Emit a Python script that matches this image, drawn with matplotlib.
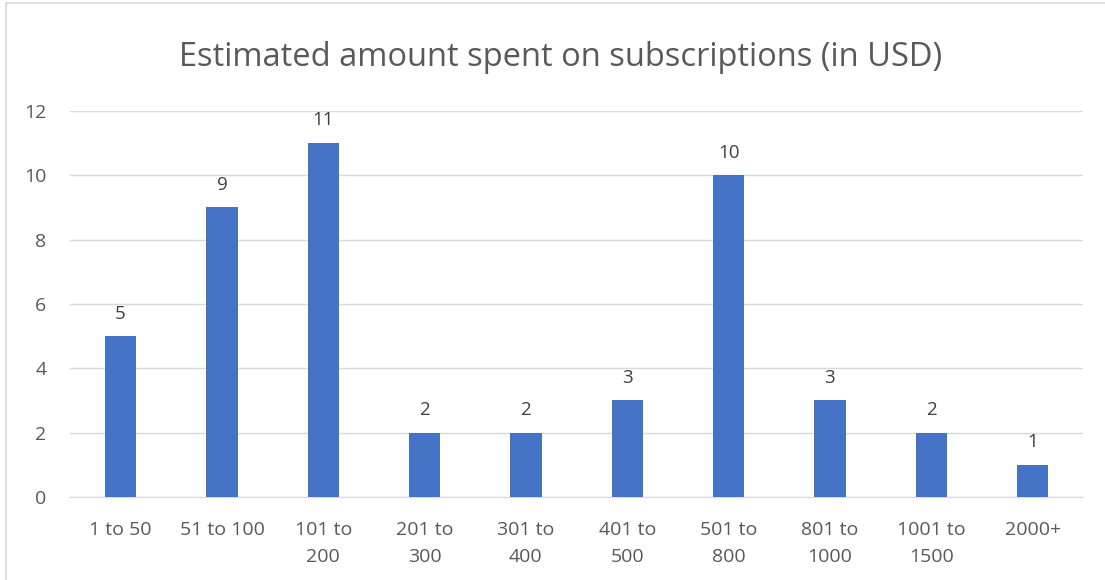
import matplotlib.pyplot as plt
from matplotlib.patches import Rectangle

categories = ['1 to 50', '51 to 100', '101 to\n200', '201 to\n300', '301 to\n400',
              '401 to\n500', '501 to\n800', '801 to\n1000', '1001 to\n1500', '2000+']
counts = [5, 9, 11, 2, 2, 3, 10, 3, 2, 1]
y_ticks = [0, 2, 4, 6, 8, 10, 12]

plt.rcParams['font.family'] = ['Open Sans', 'DejaVu Sans']

fig = plt.figure(figsize=(11.05, 5.8), dpi=100)
ax = fig.add_axes([0.0633, 0.143, 0.917, 0.666])

x = range(len(categories))
ax.bar(x, counts, width=0.31, color='#4472C4', zorder=3)
for xi, v in zip(x, counts):
    ax.text(xi, v + 0.42, str(v), ha='center', va='bottom', fontsize=13.5, color='#404040')

ax.set_xlim(-0.5, len(categories) - 0.5)
ax.set_ylim(0, 12)
ax.set_yticks(y_ticks)
ax.set_xticks(list(x))
ax.set_xticklabels(categories, fontsize=14, color='#595959', linespacing=1.65)
ax.tick_params(axis='y', labelsize=14, labelcolor='#595959', length=0, pad=17)
ax.tick_params(axis='x', length=0, pad=17)
ax.grid(axis='y', color='#D9D9D9', linewidth=1, zorder=0)
for side in ['top', 'right', 'left']:
    ax.spines[side].set_visible(False)
ax.spines['bottom'].set_color('#D9D9D9')

fig.text(0.507, 0.90, 'Estimated amount spent on subscriptions (in USD)',
         ha='center', va='center', fontsize=23.5, color='#595959')

fig.patches.append(Rectangle((0.005, -0.01), 1.5, 1.005, transform=fig.transFigure,
                             fill=False, edgecolor='#D9D9D9', linewidth=1.2))

fig.savefig('out.png', dpi=100)
